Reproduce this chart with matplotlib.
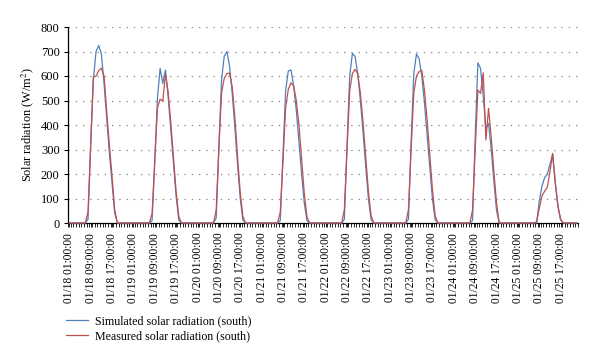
import matplotlib
matplotlib.use('Agg')
import matplotlib.pyplot as plt
import numpy as np

plt.rcParams['font.family'] = ['Liberation Serif', 'DejaVu Serif']
plt.rcParams['mathtext.fontset'] = 'stix'

# Dates (one row of 24 hourly values per day, 01:00 ... 24:00; last day ends 23:00)
dates = ['01/18', '01/19', '01/20', '01/21', '01/22', '01/23', '01/24', '01/25']
label_hours = ['01:00:00', '09:00:00', '17:00:00']
label_offsets = [0, 8, 16]

simulated = [
    [0, 0, 0, 0, 0, 0, 0, 15, 320, 585, 700, 725, 690, 570, 425, 285, 163, 40, 0, 0, 0, 0, 0, 0],
    [0, 0, 0, 0, 0, 0, 0, 10, 250, 509, 631, 570, 624, 516, 380, 245, 107, 12, 0, 0, 0, 0, 0, 0],
    [0, 0, 0, 0, 0, 0, 0, 20, 311, 584, 680, 700, 640, 530, 390, 240, 100, 12, 0, 0, 0, 0, 0, 0],
    [0, 0, 0, 0, 0, 0, 0, 10, 280, 540, 620, 625, 560, 460, 330, 200, 80, 10, 0, 0, 0, 0, 0, 0],
    [0, 0, 0, 0, 0, 0, 0, 15, 320, 600, 692, 680, 610, 500, 370, 230, 100, 15, 0, 0, 0, 0, 0, 0],
    [0, 0, 0, 0, 0, 0, 0, 15, 330, 610, 690, 670, 600, 490, 360, 225, 95, 15, 0, 0, 0, 0, 0, 0],
    [0, 0, 0, 0, 0, 0, 0, 10, 350, 654, 631, 520, 385, 407, 300, 170, 50, 0, 0, 0, 0, 0, 0, 0],
    [0, 0, 0, 0, 0, 0, 0, 0, 90, 150, 185, 200, 240, 280, 160, 65, 12, 0, 0, 0, 0, 0, 0],
]

measured = [
    [0, 0, 0, 0, 0, 0, 0, 46, 320, 595, 600, 622, 632, 600, 455, 318, 190, 53, 0, 0, 0, 0, 0, 0],
    [0, 0, 0, 0, 0, 0, 0, 40, 255, 470, 505, 498, 608, 536, 408, 270, 128, 26, 0, 0, 0, 0, 0, 0],
    [0, 0, 0, 0, 0, 0, 0, 53, 300, 530, 590, 610, 612, 556, 430, 270, 125, 26, 0, 0, 0, 0, 0, 0],
    [0, 0, 0, 0, 0, 0, 0, 45, 250, 470, 545, 572, 560, 500, 400, 260, 120, 25, 0, 0, 0, 0, 0, 0],
    [0, 0, 0, 0, 0, 0, 0, 55, 300, 540, 610, 627, 610, 530, 410, 270, 130, 30, 0, 0, 0, 0, 0, 0],
    [0, 0, 0, 0, 0, 0, 0, 55, 300, 530, 600, 618, 624, 540, 420, 280, 135, 30, 0, 0, 0, 0, 0, 0],
    [0, 0, 0, 0, 0, 0, 0, 53, 300, 543, 529, 613, 339, 468, 350, 210, 80, 0, 0, 0, 0, 0, 0, 0],
    [0, 0, 0, 0, 0, 0, 0, 5, 60, 110, 130, 145, 210, 284, 165, 70, 15, 0, 0, 0, 0, 0, 0],
]

sim_all = [v for day in simulated for v in day]
mea_all = [v for day in measured for v in day]
n = len(sim_all)
x = np.arange(n)

tick_pos = []
tick_lab = []
for d, date in enumerate(dates):
    for off, hl in zip(label_offsets, label_hours):
        idx = d * 24 + off
        if idx < n:
            tick_pos.append(idx)
            tick_lab.append(f'{date} {hl}')

fig = plt.figure(figsize=(6, 3.64), dpi=100)
ax = fig.add_axes([68 / 600, 1 - 223 / 364, 510 / 600, 196 / 364])

blue = '#4F81BD'
red = '#C0504D'
l1, = ax.plot(x, sim_all, color=blue, lw=0.9, zorder=3, clip_on=False,
              label='Simulated solar radiation (south)')
l2, = ax.plot(x, mea_all, color=red, lw=0.9, zorder=4, clip_on=False,
              label='Measured solar radiation (south)')

ax.set_xlim(-0.5, n - 0.5)
ax.set_ylim(0, 800)
ax.set_yticks(np.arange(0, 801, 100))
for yv in np.arange(100, 801, 100):
    ax.axhline(yv, color='#8a8a8a', lw=0.9, linestyle=(0, (1.1, 4.7)), zorder=1)

for s in ['top', 'right']:
    ax.spines[s].set_visible(False)
for s in ['left', 'bottom']:
    ax.spines[s].set_color('black')
    ax.spines[s].set_linewidth(0.9)

ax.set_xticks(tick_pos)
ax.set_xticklabels(tick_lab, rotation=90, fontsize=8.3)
ax.set_xticks(np.arange(-0.5, n, 1), minor=True)
ax.tick_params(axis='x', which='both', direction='out', length=3, width=0.6, pad=4)
ax.tick_params(axis='y', which='major', direction='out', length=3, width=0.8,
               labelsize=9, pad=3)

ax.set_ylabel('Solar radiation (W/m$^2$)', fontsize=8.8)
ax.yaxis.set_label_coords(-0.062, 0.5)

fig.legend(handles=[l1, l2], loc='upper left', bbox_to_anchor=(66 / 600, 1 - 315 / 364),
           frameon=False, fontsize=8.6, handlelength=1.8, handletextpad=0.6,
           labelspacing=0.3, borderpad=0, borderaxespad=0)

fig.savefig('out.png', dpi=100)
